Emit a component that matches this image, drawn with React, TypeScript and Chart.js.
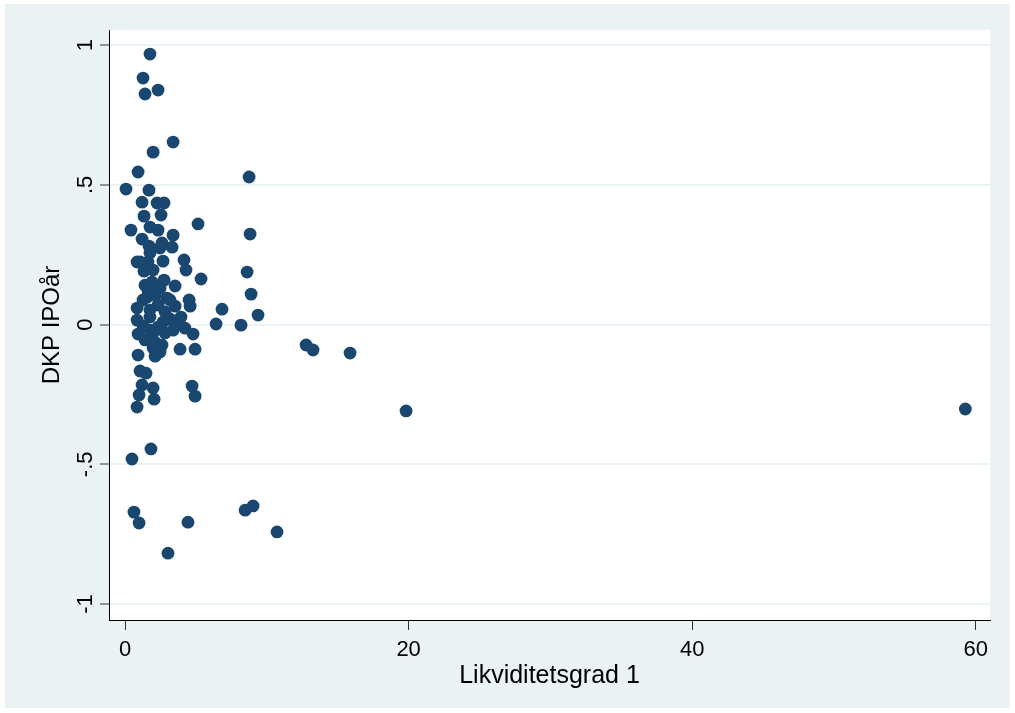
import React, { useEffect, useRef } from "react";
import { Chart, registerables } from "chart.js";

Chart.register(...registerables);

const xValues: number[] = [
  1.76, 1.27, 1.41, 2.33, 3.39, 1.98, 0.92, 0.07, 1.69, 8.75,
  1.2, 2.26, 2.75, 1.34, 2.54, 5.15, 0.42, 1.76, 2.33, 3.39,
  1.2, 8.82, 1.69, 2.61, 3.32, 0.85, 2.68, 4.16, 4.3, 1.34,
  1.98, 2.75, 3.53, 5.36, 8.61, 8.89, 1.62, 1.55, 2.96, 4.52,
  4.59, 3.53, 0.85, 6.84, 9.38, 0.85, 1.76, 2.68, 3.17, 3.95,
  6.42, 8.18, 0.92, 1.98, 3.39, 4.8, 3.88, 4.94, 0.92, 2.12,
  1.06, 1.48, 1.2, 1.98, 0.99, 2.05, 0.85, 4.73, 4.94, 1.83,
  0.49, 0.63, 0.99, 4.44, 8.47, 9.03, 10.72, 3.03, 12.77, 13.26,
  15.87, 19.82, 59.26,
  1.27, 1.76, 2.33, 2.82, 1.41, 2.12, 2.61, 3.53, 4.23, 1.76,
  2.33, 2.82, 1.27, 2.12, 2.47, 1.9, 3.17, 1.41, 2.47, 1.76,
  1.98, 2.47, 1.06, 1.62,
];

const yValues: number[] = [
  0.968, 0.882, 0.825, 0.839, 0.653, 0.617, 0.546, 0.485, 0.481, 0.528,
  0.438, 0.435, 0.435, 0.388, 0.392, 0.36, 0.338, 0.349, 0.338, 0.32,
  0.306, 0.324, 0.281, 0.292, 0.277, 0.224, 0.227, 0.231, 0.195, 0.191,
  0.195, 0.159, 0.138, 0.163, 0.188, 0.109, 0.123, 0.098, 0.095, 0.088,
  0.066, 0.066, 0.059, 0.055, 0.034, 0.016, 0.027, 0.009, 0.02, 0.027,
  0.002, -0.002, -0.034, -0.03, -0.02, -0.034, -0.088, -0.088, -0.109, -0.113,
  -0.166, -0.174, -0.216, -0.227, -0.252, -0.267, -0.295, -0.22, -0.256, -0.445,
  -0.481, -0.671, -0.71, -0.707, -0.664, -0.649, -0.742, -0.818, -0.073, -0.091,
  -0.102, -0.309, -0.302,
  -0.005, -0.02, -0.009, -0.03, -0.055, -0.063, -0.073, -0.002, -0.013, 0.052,
  0.07, 0.045, 0.088, 0.105, 0.13, 0.152, 0.088, 0.141, 0.274, 0.256,
  -0.084, -0.098, 0.224, 0.224,
];

const xTicks: number[] = [0, 20, 40, 60];
const yTicks: number[] = [-1, -0.5, 0, 0.5, 1];
const yTickLabels: string[] = ["-1", "-.5", "0", ".5", "1"];
const xTitle = "Likviditetsgrad 1";
const yTitle = "DKP IPOår";

const BG = "#eaf2f3";
const MARK = "#1a476f";
const FONT = "'Liberation Sans', Arial, sans-serif";

export default function App() {
  const ref = useRef<HTMLCanvasElement | null>(null);

  useEffect(() => {
    const canvas = ref.current;
    if (!canvas) return;

    const bgPlugin = {
      id: "stataBg",
      beforeDraw(chart: any) {
        const { ctx, chartArea } = chart;
        ctx.save();
        ctx.fillStyle = "#ffffff";
        ctx.fillRect(0, 0, chart.width, chart.height);
        ctx.fillStyle = BG;
        ctx.fillRect(5, 4, 1005, 704);
        ctx.fillStyle = "#ffffff";
        ctx.fillRect(chartArea.left, chartArea.top, chartArea.right - chartArea.left, chartArea.bottom - chartArea.top);
        ctx.restore();
      },
      afterDraw(chart: any) {
        const { ctx } = chart;
        const ys = chart.scales.y;
        ctx.save();
        ctx.fillStyle = "#000";
        ctx.font = `22px ${FONT}`;
        ctx.textAlign = "center";
        ctx.textBaseline = "middle";
        yTicks.forEach((v, i) => {
          const py = ys.getPixelForValue(v);
          ctx.save();
          ctx.translate(86, py);
          ctx.rotate(-Math.PI / 2);
          ctx.fillText(yTickLabels[i], 0, 0);
          ctx.restore();
        });
        ctx.font = `24px ${FONT}`;
        const mid = (ys.top + ys.bottom) / 2;
        ctx.save();
        ctx.translate(52, mid);
        ctx.rotate(-Math.PI / 2);
        ctx.fillText(yTitle, 0, 0);
        ctx.restore();
        ctx.restore();
      },
    };

    const chart = new Chart(canvas, {
      type: "scatter",
      data: {
        datasets: [
          {
            data: xValues.map((x, i) => ({ x, y: yValues[i] })),
            backgroundColor: MARK,
            borderColor: MARK,
            borderWidth: 0,
            pointRadius: 6.4,
            pointHoverRadius: 6.4,
          },
        ],
      },
      options: {
        animation: false,
        responsive: false,
        maintainAspectRatio: false,
        layout: { padding: { top: 30, right: 25, left: 0, bottom: 0 } },
        plugins: {
          legend: { display: false },
          tooltip: { enabled: false },
        },
        scales: {
          x: {
            type: "linear",
            min: -1.13,
            max: 61.0,
            afterFit: (s: any) => {
              s.height = 93;
            },
            afterBuildTicks: (s: any) => {
              s.ticks = xTicks.map((v) => ({ value: v }));
            },
            border: { display: true, color: "#000", width: 1 },
            grid: {
              display: true,
              drawOnChartArea: false,
              drawTicks: true,
              tickLength: 10,
              tickColor: "#333",
              tickWidth: 1,
            },
            ticks: {
              color: "#000",
              font: { family: FONT, size: 22 },
              padding: 7,
              maxRotation: 0,
              minRotation: 0,
              callback: (v: any) => String(v),
            },
            title: {
              display: true,
              text: xTitle,
              color: "#000",
              font: { family: FONT, size: 25 },
              padding: { top: 0, bottom: 22 },
            },
          },
          y: {
            type: "linear",
            min: -1.057,
            max: 1.054,
            afterFit: (s: any) => {
              s.width = 109;
            },
            afterBuildTicks: (s: any) => {
              s.ticks = yTicks.map((v) => ({ value: v }));
            },
            border: { display: true, color: "#000", width: 1 },
            grid: {
              display: true,
              drawOnChartArea: true,
              drawTicks: true,
              tickLength: 9,
              color: BG,
              lineWidth: 2,
              tickColor: "#333",
              tickWidth: 1,
            },
            ticks: { display: false },
            title: { display: false },
          },
        },
      },
      plugins: [bgPlugin],
    });

    return () => chart.destroy();
  }, []);

  return (
    <div style={{ position: "fixed", left: 0, top: 0, width: 1015, height: 713 }}>
      <canvas ref={ref} width={1015} height={713} style={{ width: 1015, height: 713, display: "block" }} />
    </div>
  );
}
